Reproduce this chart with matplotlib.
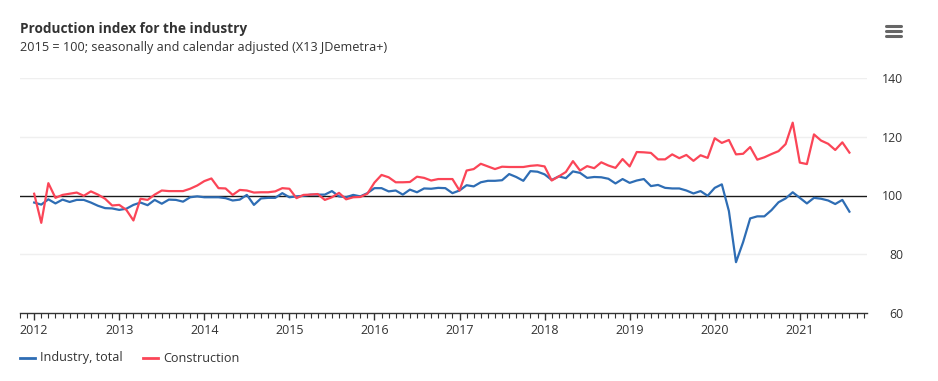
import matplotlib
matplotlib.use("Agg")
import matplotlib.pyplot as plt
from matplotlib.lines import Line2D
from matplotlib.ticker import FixedLocator, MultipleLocator
import numpy as np

plt.rcParams['font.family'] = ['Open Sans', 'DejaVu Sans']

start_year = 2012
industry = [97.6, 96.9, 98.7, 97.3, 98.6, 97.8, 98.5, 98.5, 97.6, 96.5, 95.7, 95.6,
            95.1, 95.5, 96.8, 97.6, 96.7, 98.5, 97.2, 98.6, 98.5, 97.9, 99.4, 99.7,
            99.4, 99.4, 99.4, 99.1, 98.3, 98.6, 100.2, 96.8, 99.0, 99.2, 99.2, 100.8,
            99.4, 99.7, 99.9, 100.3, 100.3, 100.3, 101.5, 99.7, 99.4, 100.2, 99.7, 100.8,
            102.5, 102.5, 101.4, 101.7, 100.3, 102.0, 101.1, 102.4, 102.3, 102.6, 102.5, 100.8,
            101.7, 103.5, 103.1, 104.5, 105.0, 105.0, 105.2, 107.3, 106.3, 105.0, 108.3, 108.1,
            107.2, 105.3, 106.5, 105.9, 108.2, 107.7, 106.0, 106.3, 106.2, 105.7, 104.1, 105.6,
            104.3, 105.1, 105.6, 103.2, 103.6, 102.6, 102.4, 102.4, 101.7, 100.7, 101.5, 99.9,
            102.6, 103.8, 94.7, 77.3, 84.1, 92.2, 92.9, 92.9, 95.0, 97.7, 99.0, 101.1,
            99.2, 97.3, 99.2, 98.9, 98.3, 97.1, 98.5, 94.5]
construction = [100.6, 90.7, 104.2, 99.2, 100.2, 100.6, 101.0, 99.9, 101.4, 100.3, 98.9, 96.6,
                96.8, 95.1, 91.5, 98.9, 98.5, 100.3, 101.7, 101.5, 101.5, 101.5, 102.3, 103.4,
                104.9, 105.8, 102.5, 102.4, 100.2, 101.9, 101.7, 101.0, 101.1, 101.1, 101.4, 102.5,
                102.3, 99.1, 100.2, 100.3, 100.5, 98.5, 99.4, 100.9, 98.7, 99.4, 99.5, 100.6,
                104.4, 107.0, 106.2, 104.5, 104.5, 104.6, 106.4, 106.0, 105.1, 105.6, 105.6, 105.6,
                101.7, 108.5, 109.0, 110.8, 109.9, 109.0, 109.8, 109.7, 109.7, 109.7, 110.1, 110.3,
                109.9, 105.1, 106.5, 108.0, 111.7, 108.5, 110.0, 109.3, 111.3, 110.2, 109.4, 112.4,
                109.9, 114.8, 114.7, 114.5, 112.3, 112.3, 114.0, 112.7, 113.8, 111.8, 113.7, 112.8,
                119.5, 117.9, 118.9, 114.0, 114.2, 116.5, 112.2, 113.0, 114.1, 115.1, 117.5, 124.8,
                111.2, 110.7, 120.8, 118.7, 117.6, 115.5, 118.1, 114.6]
years = list(range(2012, 2022))
y_ticks = [60, 80, 100, 120, 140]
series_names = ["Industry, total", "Construction"]
title = "Production index for the industry"
subtitle = "2015 = 100; seasonally and calendar adjusted (X13 JDemetra+)"

blue = "#2e6db4"
red = "#fb4557"
text_col = "#333333"

x = start_year + np.arange(len(industry)) / 12.0

W, H = 938, 381
fig = plt.figure(figsize=(W / 100, H / 100), dpi=100)
ax = fig.add_axes([20 / W, 1 - 313 / H, (867 - 20) / W, (313 - 78) / H])

ax.plot(x, industry, color=blue, lw=1.6, zorder=3, solid_joinstyle='round')
ax.plot(x, construction, color=red, lw=1.6, zorder=3, solid_joinstyle='round')

ax.set_xlim(2011 + 10 / 12, 2021.79)
ax.set_ylim(60, 140)

for v in y_ticks:
    if v == 100:
        ax.axhline(v, color="#1a1a1a", lw=1.0, zorder=2)
    elif v != 60:
        ax.axhline(v, color="#efefef", lw=1.0, zorder=1)

for s in ["top", "left", "right"]:
    ax.spines[s].set_visible(False)
ax.spines["bottom"].set_color("#333333")
ax.spines["bottom"].set_linewidth(1.0)

ax.xaxis.set_major_locator(FixedLocator(years))
ax.set_xticks(years)
ax.set_xticklabels([str(y) for y in years])
ax.xaxis.set_minor_locator(MultipleLocator(1 / 12))
ax.tick_params(axis='x', which='major', length=5, width=1, color="#333333",
               labelsize=9, labelcolor=text_col, pad=3)
ax.tick_params(axis='x', which='minor', length=3.3, width=0.8, color="#333333")

ax.yaxis.tick_right()
ax.set_yticks(y_ticks)
ax.set_yticklabels([str(v) for v in y_ticks])
ax.tick_params(axis='y', length=0, labelsize=8.8, labelcolor=text_col, pad=26)
for lab in ax.get_yticklabels():
    lab.set_horizontalalignment('right')

fig.text(20 / W, 1 - 29 / H, title, fontsize=9.8, fontweight='bold', color=text_col,
         va='center', ha='left')
fig.text(20 / W, 1 - 47 / H, subtitle, fontsize=9.1, color=text_col, va='center', ha='left')

# legend
ly = 1 - 358 / H
for (x0, name, col) in [(20, series_names[0], blue), (143, series_names[1], red)]:
    fig.add_artist(Line2D([x0 / W, (x0 + 15) / W], [ly, ly], color=col, lw=2,
                          transform=fig.transFigure))
    fig.text((x0 + 20) / W, ly, name, fontsize=9.1, color=text_col, va='center', ha='left')

# menu icon
for dy in (-5, 0, 5):
    yy = 1 - (31 + dy) / H
    fig.add_artist(Line2D([886 / W, 901 / W], [yy, yy], color="#666666", lw=2.2,
                          solid_capstyle='round', transform=fig.transFigure))

fig.savefig("out.png", dpi=100)
